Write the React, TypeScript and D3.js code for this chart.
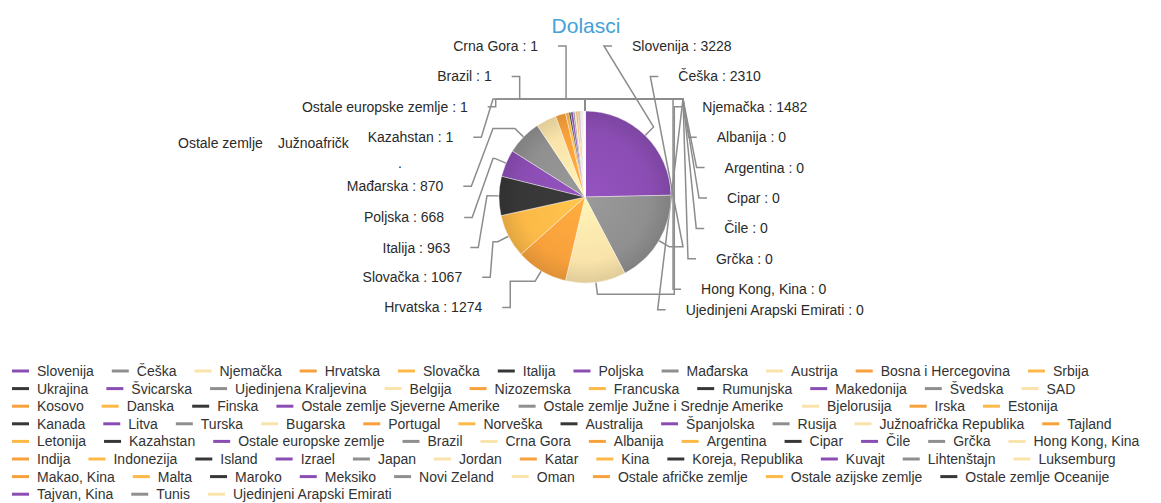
import * as React from "react";
import * as d3 from "d3";

// Countries in legend order, with arrivals ("Dolasci")
const countries = [
  "Slovenija", "Češka", "Njemačka", "Hrvatska", "Slovačka", "Italija", "Poljska", "Mađarska", "Austrija", "Bosna i Hercegovina", "Srbija",
  "Ukrajina", "Švicarska", "Ujedinjena Kraljevina", "Belgija", "Nizozemska", "Francuska", "Rumunjska", "Makedonija", "Švedska", "SAD",
  "Kosovo", "Danska", "Finska", "Ostale zemlje Sjeverne Amerike", "Ostale zemlje Južne i Srednje Amerike", "Bjelorusija", "Irska", "Estonija",
  "Kanada", "Litva", "Turska", "Bugarska", "Portugal", "Norveška", "Australija", "Španjolska", "Rusija", "Južnoafrička Republika", "Tajland",
  "Letonija", "Kazahstan", "Ostale europske zemlje", "Brazil", "Crna Gora", "Albanija", "Argentina", "Cipar", "Čile", "Grčka", "Hong Kong, Kina",
  "Indija", "Indonezija", "Island", "Izrael", "Japan", "Jordan", "Katar", "Kina", "Koreja, Republika", "Kuvajt", "Lihtenštajn", "Luksemburg",
  "Makao, Kina", "Malta", "Maroko", "Meksiko", "Novi Zeland", "Oman", "Ostale afričke zemlje", "Ostale azijske zemlje", "Ostale zemlje Oceanije",
  "Tajvan, Kina", "Tunis", "Ujedinjeni Arapski Emirati",
];

const arrivals = [
  3228, 2310, 1482, 1274, 1067, 963, 668, 870, 500, 250, 80,
  45, 60, 40, 30, 40, 25, 15, 20, 12, 18,
  12, 10, 8, 5, 5, 5, 5, 4,
  4, 4, 3, 3, 3, 3, 2, 2, 2, 2, 2,
  2, 1, 1, 1, 1, 0, 0, 0, 0, 0, 0,
  0, 0, 0, 0, 0, 0, 0, 0, 0, 0, 0, 0,
  0, 0, 0, 0, 0, 0, 0, 0, 0,
  0, 0, 0,
];

// how many legend items sit on each legend line
const legendRowSizes = [11, 10, 8, 11, 11, 12, 9, 3];

const palette = ["#8b4db3", "#8f8f8f", "#f9e3aa", "#f8a13c", "#fcb947", "#373737"];

// labels drawn next to the pie (right and left side) and their slot on the label column
const rightLabels = ["Slovenija", "Češka", "Njemačka", "Albanija", "Argentina", "Cipar", "Čile", "Grčka", "Hong Kong, Kina", "Ujedinjeni Arapski Emirati"];
const rightSlots = [0, 1, 2, 3, 4, 5, 6, 7, 8, 8.68];
const leftLabels = ["Crna Gora", "Brazil", "Ostale europske zemlje", "Kazahstan", "Mađarska", "Poljska", "Italija", "Slovačka", "Hrvatska"];
const leftSlots = [0, 1, 2, 3, 4.61, 5.64, 6.63, 7.61, 8.6];

// labels that got cut off by the overlap handling
const clippedLabels = ["Ostale zemlje", "Južnoafričk", "."];

const FONT = "'Liberation Sans', Arial, Helvetica, sans-serif";

let measureCtx: CanvasRenderingContext2D | null = null;
function textWidth(text: string, font: string) {
  if (!measureCtx) measureCtx = document.createElement("canvas").getContext("2d");
  measureCtx!.font = font;
  return measureCtx!.measureText(text).width;
}

export default function App() {
  const width = 1161;
  const height = 503;
  const cx = 585, cy = 197, radius = 86;
  const rayRadius = radius + 12;
  const railRight = cx + 98, railLeft = cx - 92;

  const arcs = d3.pie<number>().sort(null).value(d => d)(arrivals);
  const arcGen = d3.arc<d3.PieArcDatum<number>>().innerRadius(0).outerRadius(radius);
  const colorOf = (i: number) => palette[i % palette.length];

  const slotY = d3.scaleLinear().domain([0, 1]).range([46, 76.4]);
  const ellipseX = (y: number) => 142 * Math.sqrt(Math.max(0, 1 - ((y - cy) / 160) ** 2));

  const crosses = (x1: number, y1: number, x2: number, y2: number) => {
    const dx = x2 - x1, dy = y2 - y1;
    const len = dx * dx + dy * dy || 1;
    const t = Math.max(0, Math.min(1, ((cx - x1) * dx + (cy - y1) * dy) / len));
    return Math.hypot(x1 + t * dx - cx, y1 + t * dy - cy) < radius + 1;
  };

  const makeLabel = (name: string, slot: number, side: number) => {
    const i = countries.indexOf(name);
    const a = arcs[i];
    const mid = (a.startAngle + a.endAngle) / 2;
    const y = slotY(slot);
    const x = cx + side * ellipseX(y);
    const sx = x - side * 20, ex = sx - side * 8;
    const rx = cx + rayRadius * Math.sin(mid), ry = cy - rayRadius * Math.cos(mid);
    const tx = cx + radius * Math.sin(mid), ty = cy - radius * Math.cos(mid);
    let px = side > 0 ? Math.max(rx, Math.min(ex, railRight)) : Math.min(rx, Math.max(ex, railLeft));
    if (crosses(ex, y, px, ry)) px = side > 0 ? Math.max(rx, railRight) : Math.min(rx, railLeft);
    const path = d3.line()([[sx, y], [ex, y], [px, ry], [rx, ry], [tx, ty]]);
    return { name, text: `${name} : ${arrivals[i]}`, x, y, side, path };
  };

  const labels = [
    ...rightLabels.map((n, k) => makeLabel(n, rightSlots[k], 1)),
    ...leftLabels.map((n, k) => makeLabel(n, leftSlots[k], -1)),
  ];

  // clipped leftovers on the left side
  const clippedPos = [
    { x: 178, y: slotY(3.19) },
    { x: 278, y: slotY(3.19) },
    { x: 398, y: slotY(3.85) },
  ];

  // legend
  const legendSize = 14;
  const legendFont = `${legendSize}px ${FONT}`;
  const markerW = 17, markerGap = 8, itemGap = 18;
  const rowY = d3.scaleLinear().domain([0, 1]).range([371, 388.6]);
  const legendItems: { name: string; color: string; x: number; y: number }[] = [];
  let idx = 0;
  legendRowSizes.forEach((n, r) => {
    let x = 12;
    for (let k = 0; k < n; k++) {
      const name = countries[idx];
      legendItems.push({ name, color: colorOf(idx), x, y: rowY(r) });
      x += markerW + markerGap + textWidth(name, legendFont) + itemGap;
      idx++;
    }
  });

  return (
    <div style={{ position: "absolute", left: 0, top: 0 }}>
      <svg width={width} height={height} style={{ display: "block", background: "#fff" }} fontFamily={FONT}>
        <defs>
          {palette.map((c, i) => (
            <radialGradient key={i} id={`g${i}`} cx={0} cy={0} r={radius} gradientUnits="userSpaceOnUse">
              <stop offset="0%" stopColor={d3.color(c)!.brighter(0.2).formatHex()} />
              <stop offset="75%" stopColor={c} />
              <stop offset="100%" stopColor={d3.color(c)!.darker(0.3).formatHex()} />
            </radialGradient>
          ))}
        </defs>

        <text x={586} y={33} textAnchor="middle" fontSize={21} fill="#45a2d8">Dolasci</text>

        <g fill="none" stroke="#8c8c8c" strokeWidth={1.5}>
          {labels.map((l, i) => <path key={i} d={l.path || ""} />)}
        </g>

        <g transform={`translate(${cx},${cy})`}>
          {arcs.map((a, i) => (
            a.value > 0 ? <path key={i} d={arcGen(a) || ""} fill={`url(#g${i % palette.length})`} stroke="#fff" strokeWidth={0.4} /> : null
          ))}
        </g>

        <g fontSize={14} fill="#2a2a2a">
          {labels.map((l, i) => (
            <text key={i} x={l.x} y={l.y + 5} textAnchor={l.side > 0 ? "start" : "end"}>{l.text}</text>
          ))}
          {clippedLabels.map((t, i) => (
            <text key={"c" + i} x={clippedPos[i].x} y={clippedPos[i].y + 5}>{t}</text>
          ))}
        </g>

        <g fontSize={legendSize} fill="#333">
          {legendItems.map((it, i) => (
            <g key={i}>
              <line x1={it.x} x2={it.x + markerW} y1={it.y} y2={it.y} stroke={it.color} strokeWidth={3} />
              <text x={it.x + markerW + markerGap} y={it.y + 5}>{it.name}</text>
            </g>
          ))}
        </g>
      </svg>
    </div>
  );
}
